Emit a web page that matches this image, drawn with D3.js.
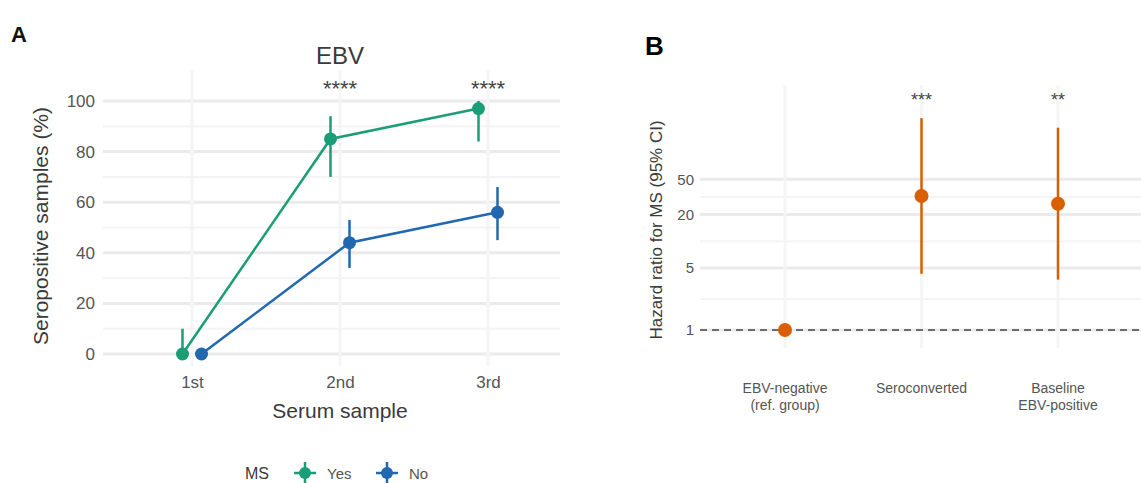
<!DOCTYPE html>
<html>
<head>
<meta charset="utf-8">
<script src="https://cdn.jsdelivr.net/npm/d3@7"></script>
<style>
  body { margin: 0; background: #fff; }
  svg { display: block; font-family: "Liberation Sans", Arial, sans-serif; }
</style>
</head>
<body>
<script>
// Panel A data: share of seropositive samples per serum sample
const samples = ["1st", "2nd", "3rd"];
const msGroups = ["Yes", "No"];
const msColors = { Yes: "#1b9e77", No: "#2168b0" };
const yesPct = [0, 85, 97];
const yesLow = [0, 70, 84];
const yesHigh = [10, 94, 100];
const noPct = [0, 44, 56];
const noLow = [0, 34, 45];
const noHigh = [1, 53, 66];
const sampleStars = ["", "****", "****"];
const pctTicks = [0, 20, 40, 60, 80, 100];

// Panel B data: hazard ratios
const hrGroups = ["EBV-negative\n(ref. group)", "Seroconverted", "Baseline\nEBV-positive"];
const hrValue = [1, 32.4, 26.5];
const hrLow = [1, 4.3, 3.7];
const hrHigh = [1, 245, 191];
const hrStars = ["", "***", "**"];
const hrTicks = [1, 5, 20, 50];

const W = 1141, H = 483;
const svg = d3.select("body").append("svg").attr("width", W).attr("height", H);

const tickCol = "#555", titleCol = "#3a3a3a", gridCol = "#ebebeb";

// ---------- Panel A ----------
const xA = d3.scalePoint().domain(samples).range([192, 488]);
const yA = d3.scaleLinear().domain([0, 100]).range([354, 101]);
const dodge = { Yes: -9.5, No: 9.5 };

const gA = svg.append("g");

// minor + major grid
gA.selectAll(".minorA").data(d3.range(10, 110, 20)).enter().append("line")
  .attr("x1", 103).attr("x2", 560)
  .attr("y1", d => yA(d)).attr("y2", d => yA(d))
  .attr("stroke", "#f4f4f4").attr("stroke-width", 2);
gA.selectAll(".majorA").data(pctTicks).enter().append("line")
  .attr("x1", 103).attr("x2", 560)
  .attr("y1", d => yA(d)).attr("y2", d => yA(d))
  .attr("stroke", gridCol).attr("stroke-width", 3);
gA.selectAll(".vgridA").data(samples).enter().append("line")
  .attr("x1", d => xA(d)).attr("x2", d => xA(d))
  .attr("y1", 70).attr("y2", 366)
  .attr("stroke", "#f5f5f5").attr("stroke-width", 3);

// y axis
const yAxisA = gA.append("g").attr("transform", "translate(103,0)")
  .call(d3.axisLeft(yA).tickValues(pctTicks).tickSize(0).tickPadding(8));
yAxisA.select(".domain").remove();
yAxisA.selectAll("text").attr("fill", tickCol).style("font-size", "17px")
  .style("font-family", "Liberation Sans, Arial, sans-serif");

// x axis
const xAxisA = gA.append("g").attr("transform", "translate(0,366)")
  .call(d3.axisBottom(xA).tickSize(0).tickPadding(10));
xAxisA.select(".domain").remove();
xAxisA.selectAll("text").attr("fill", tickCol).style("font-size", "17px")
  .style("font-family", "Liberation Sans, Arial, sans-serif");

const seriesA = msGroups.map(g => ({
  group: g,
  pts: samples.map((s, i) => ({
    s,
    v: g === "Yes" ? yesPct[i] : noPct[i],
    lo: g === "Yes" ? yesLow[i] : noLow[i],
    hi: g === "Yes" ? yesHigh[i] : noHigh[i]
  }))
}));

const lineA = d3.line().x(d => d.x).y(d => yA(d.v));
seriesA.forEach(sr => {
  const pts = sr.pts.map(p => ({ ...p, x: xA(p.s) + dodge[sr.group] }));
  gA.append("path").datum(pts).attr("d", lineA)
    .attr("fill", "none").attr("stroke", msColors[sr.group]).attr("stroke-width", 2.5);
  gA.selectAll(".err" + sr.group).data(pts).enter().append("line")
    .attr("x1", d => d.x).attr("x2", d => d.x)
    .attr("y1", d => yA(d.lo)).attr("y2", d => yA(d.hi))
    .attr("stroke", msColors[sr.group]).attr("stroke-width", 2.5);
  gA.selectAll(".pt" + sr.group).data(pts).enter().append("circle")
    .attr("cx", d => d.x).attr("cy", d => yA(d.v)).attr("r", 6.5)
    .attr("fill", msColors[sr.group]);
});

// significance stars
gA.selectAll(".starsA").data(samples).enter().append("text")
  .attr("x", d => xA(d)).attr("y", 96)
  .attr("text-anchor", "middle").attr("fill", "#444")
  .style("font-size", "22px").text((d, i) => sampleStars[i]);

// titles
gA.append("text").attr("x", 340).attr("y", 64).attr("text-anchor", "middle")
  .attr("fill", titleCol).style("font-size", "24px").text("EBV");
gA.append("text").attr("x", 340).attr("y", 418).attr("text-anchor", "middle")
  .attr("fill", titleCol).style("font-size", "21px").text("Serum sample");
gA.append("text").attr("transform", "translate(48,226) rotate(-90)")
  .attr("text-anchor", "middle").attr("fill", titleCol)
  .style("font-size", "21px").text("Seropositive samples (%)");
svg.append("text").attr("x", 11).attr("y", 42).attr("fill", "#111")
  .style("font-size", "22px").style("font-weight", "bold").text("A");

// legend
const leg = gA.append("g").attr("transform", "translate(0,473)");
leg.append("text").attr("x", 245).attr("y", 6).attr("fill", titleCol)
  .style("font-size", "16px").text("MS");
const legX = { Yes: 305, No: 387 };
msGroups.forEach(g => {
  const k = leg.append("g").attr("transform", `translate(${legX[g]},0)`);
  k.append("line").attr("x1", -11).attr("x2", 11).attr("stroke", msColors[g]).attr("stroke-width", 2.5);
  k.append("line").attr("y1", -11).attr("y2", 11).attr("stroke", msColors[g]).attr("stroke-width", 2.5);
  k.append("circle").attr("r", 6).attr("fill", msColors[g]);
  leg.append("text").attr("x", legX[g] + 22).attr("y", 6).attr("fill", tickCol)
    .style("font-size", "15px").text(g);
});

// ---------- Panel B ----------
const xB = d3.scalePoint().domain(hrGroups).range([785, 1058]);
const yB = d3.scaleLog().domain([1, 100]).range([330, 152.6]);
const orange = "#d95f02";
const gB = svg.append("g");

// minor grid at log midpoints between major breaks
const minorB = hrTicks.slice(1).map((t, i) => Math.sqrt(t * hrTicks[i]));
gB.selectAll(".minorB").data(minorB).enter().append("line")
  .attr("x1", 700).attr("x2", W)
  .attr("y1", d => yB(d)).attr("y2", d => yB(d))
  .attr("stroke", "#f4f4f4").attr("stroke-width", 2);
gB.selectAll(".majorB").data(hrTicks).enter().append("line")
  .attr("x1", 700).attr("x2", W)
  .attr("y1", d => yB(d)).attr("y2", d => yB(d))
  .attr("stroke", gridCol).attr("stroke-width", 3);
gB.selectAll(".vgridB").data(hrGroups).enter().append("line")
  .attr("x1", d => xB(d)).attr("x2", d => xB(d))
  .attr("y1", 85).attr("y2", 348)
  .attr("stroke", "#f5f5f5").attr("stroke-width", 3);

const yAxisB = gB.append("g").attr("transform", "translate(700,0)")
  .call(d3.axisLeft(yB).tickValues(hrTicks).tickFormat(d3.format("d")).tickSize(0).tickPadding(6));
yAxisB.select(".domain").remove();
yAxisB.selectAll("text").attr("fill", tickCol).style("font-size", "15px")
  .style("font-family", "Liberation Sans, Arial, sans-serif");

// reference line at HR = 1
gB.append("line").attr("x1", 700).attr("x2", W)
  .attr("y1", yB(1)).attr("y2", yB(1))
  .attr("stroke", "#444").attr("stroke-width", 1.6).attr("stroke-dasharray", "7,5");

const ptsB = hrGroups.map((g, i) => ({ g, v: hrValue[i], lo: hrLow[i], hi: hrHigh[i], star: hrStars[i] }));
gB.selectAll(".errB").data(ptsB).enter().append("line")
  .attr("x1", d => xB(d.g)).attr("x2", d => xB(d.g))
  .attr("y1", d => yB(d.lo)).attr("y2", d => yB(d.hi))
  .attr("stroke", orange).attr("stroke-width", 2.5);
gB.selectAll(".ptB").data(ptsB).enter().append("circle")
  .attr("cx", d => xB(d.g)).attr("cy", d => yB(d.v)).attr("r", 7)
  .attr("fill", orange);
gB.selectAll(".starB").data(ptsB).enter().append("text")
  .attr("x", d => xB(d.g)).attr("y", 106).attr("text-anchor", "middle")
  .attr("fill", "#444").style("font-size", "18px").text(d => d.star);

// category labels (multi-line)
gB.selectAll(".catB").data(hrGroups).enter().append("text")
  .attr("x", d => xB(d)).attr("y", 393).attr("text-anchor", "middle")
  .attr("fill", tickCol).style("font-size", "14px")
  .each(function(d) {
    d.split("\n").forEach((line, j) => {
      d3.select(this).append("tspan").attr("x", xB(d)).attr("dy", j ? 17 : 0).text(line);
    });
  });

gB.append("text").attr("transform", "translate(662,230) rotate(-90)")
  .attr("text-anchor", "middle").attr("fill", titleCol)
  .style("font-size", "17px").text("Hazard ratio for MS (95% CI)");
svg.append("text").attr("x", 645).attr("y", 55).attr("fill", "#000")
  .style("font-size", "26px").style("font-weight", "bold").text("B");
</script>
</body>
</html>
